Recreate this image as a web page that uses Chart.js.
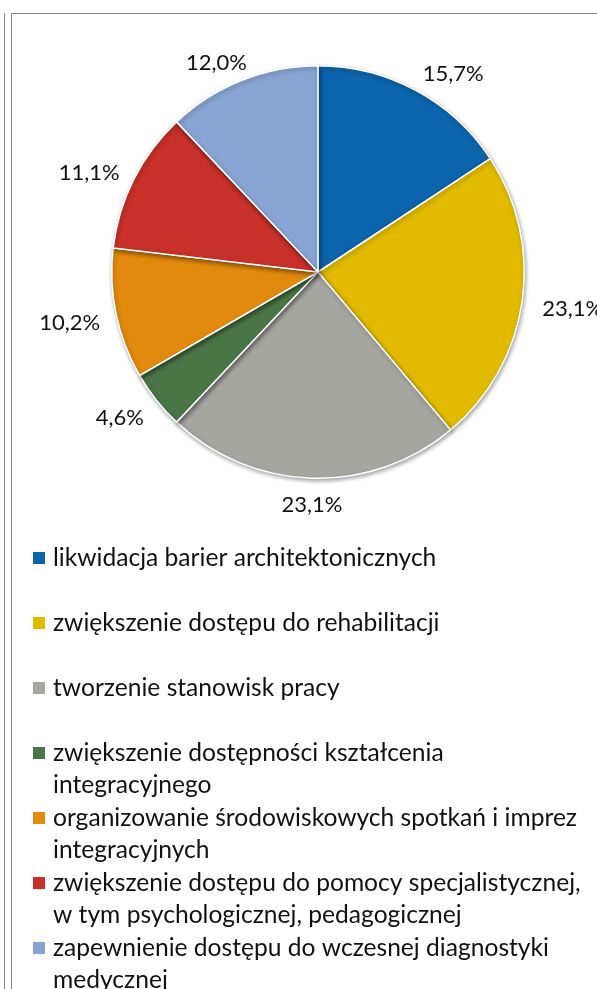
<!DOCTYPE html>
<html>
<head>
<meta charset="utf-8">
<script src="https://cdn.jsdelivr.net/npm/chart.js@4"></script>
<style>
  html, body { margin: 0; padding: 0; background: #fff; }
  body { width: 597px; height: 989px; position: relative; overflow: hidden; }
  .frame-v { position: absolute; top: 13px; bottom: 0; width: 1px; background: #858585; }
  .frame-h { position: absolute; top: 13px; left: 11px; right: 0; height: 1px; background: #858585; }
  #box { position: absolute; left: 0; top: 0; width: 597px; height: 989px; }
</style>
</head>
<body>
<div id="box"><canvas id="pie"></canvas></div>
<div class="frame-v" style="left:4px"></div>
<div class="frame-v" style="left:11px"></div>
<div class="frame-h"></div>
<script>
// Categories: each entry is the list of lines shown in the legend
const categories = [
  ["likwidacja barier architektonicznych"],
  ["zwiększenie dostępu do rehabilitacji"],
  ["tworzenie stanowisk pracy"],
  ["zwiększenie dostępności kształcenia", "integracyjnego"],
  ["organizowanie środowiskowych spotkań i imprez", "integracyjnych"],
  ["zwiększenie dostępu do pomocy specjalistycznej,", "w tym psychologicznej, pedagogicznej"],
  ["zapewnienie dostępu do wczesnej diagnostyki", "medycznej"]
];
// Share of each category, in percent
const shares = [15.7, 23.1, 23.1, 4.6, 10.2, 11.1, 12.0];
const sliceColors = ["#0c64ac", "#e2bb00", "#a6a6a1", "#4a7547", "#e28a0d", "#c8302a", "#88a4d4"];

const FONT = 'Lato, "Open Sans", sans-serif';
const fmt = v => v.toFixed(1).replace('.', ',') + '%';

// Soft drop shadow under the slices
const shadowPlugin = {
  id: 'sliceShadow',
  beforeDatasetsDraw(chart) {
    const c = chart.ctx;
    c.save();
    c.shadowColor = 'rgba(0,0,0,0.35)';
    c.shadowBlur = 4;
    c.shadowOffsetX = 1;
    c.shadowOffsetY = 2;
  },
  afterDatasetsDraw(chart) {
    chart.ctx.restore();
  }
};

// Percentage labels placed outside each slice, beyond its middle angle
const outsideLabels = {
  id: 'outsideLabels',
  afterDraw(chart) {
    const c = chart.ctx;
    const meta = chart.getDatasetMeta(0);
    const data = chart.data.datasets[0].data;
    const size = 22;
    c.save();
    c.font = size + 'px ' + FONT;
    c.fillStyle = '#111';
    c.textAlign = 'center';
    c.textBaseline = 'alphabetic';
    meta.data.forEach((arc, i) => {
      const p = arc.getProps(['x', 'y', 'startAngle', 'endAngle', 'outerRadius'], true);
      const mid = (p.startAngle + p.endAngle) / 2;
      const txt = fmt(data[i]);
      const w = c.measureText(txt).width;
      const ux = Math.cos(mid), uy = Math.sin(mid);
      const d = p.outerRadius + 23;
      const sx = Math.sign(ux) * Math.min(1, Math.abs(ux) * 2) * 0.85;
      const cx = p.x + ux * d + sx * w / 2 + 2;
      const cy = p.y + uy * d + 3;
      c.fillText(txt, cx, cy + size * 0.72 / 2);
    });
    c.restore();
  }
};

// Legend drawn under the pie from the same categories and colours
const legendBelow = {
  id: 'legendBelow',
  afterDraw(chart) {
    const c = chart.ctx;
    const labels = chart.data.labels;
    const colors = chart.data.datasets[0].backgroundColor;
    const firstBaseline = 566, itemStep = 65, lineStep = 31.5;
    c.save();
    c.font = '24.6px ' + FONT;
    c.textAlign = 'left';
    c.textBaseline = 'alphabetic';
    labels.forEach((lines, i) => {
      const base = firstBaseline + i * itemStep;
      c.fillStyle = colors[i];
      c.fillRect(33, base - 14, 12, 12);
      c.fillStyle = '#111';
      lines.forEach((ln, j) => c.fillText(ln, 53, base + j * lineStep));
    });
    c.restore();
  }
};

new Chart(document.getElementById('pie'), {
  type: 'pie',
  data: {
    labels: categories,
    datasets: [{
      data: shares,
      backgroundColor: sliceColors,
      borderColor: '#ffffff',
      borderWidth: 1.5
    }]
  },
  options: {
    responsive: true,
    maintainAspectRatio: false,
    animation: false,
    layout: { padding: { left: 111, right: 72, top: 65, bottom: 510 } },
    plugins: {
      legend: { display: false },
      tooltip: { enabled: false }
    }
  },
  plugins: [shadowPlugin, outsideLabels, legendBelow]
});
</script>
</body>
</html>
